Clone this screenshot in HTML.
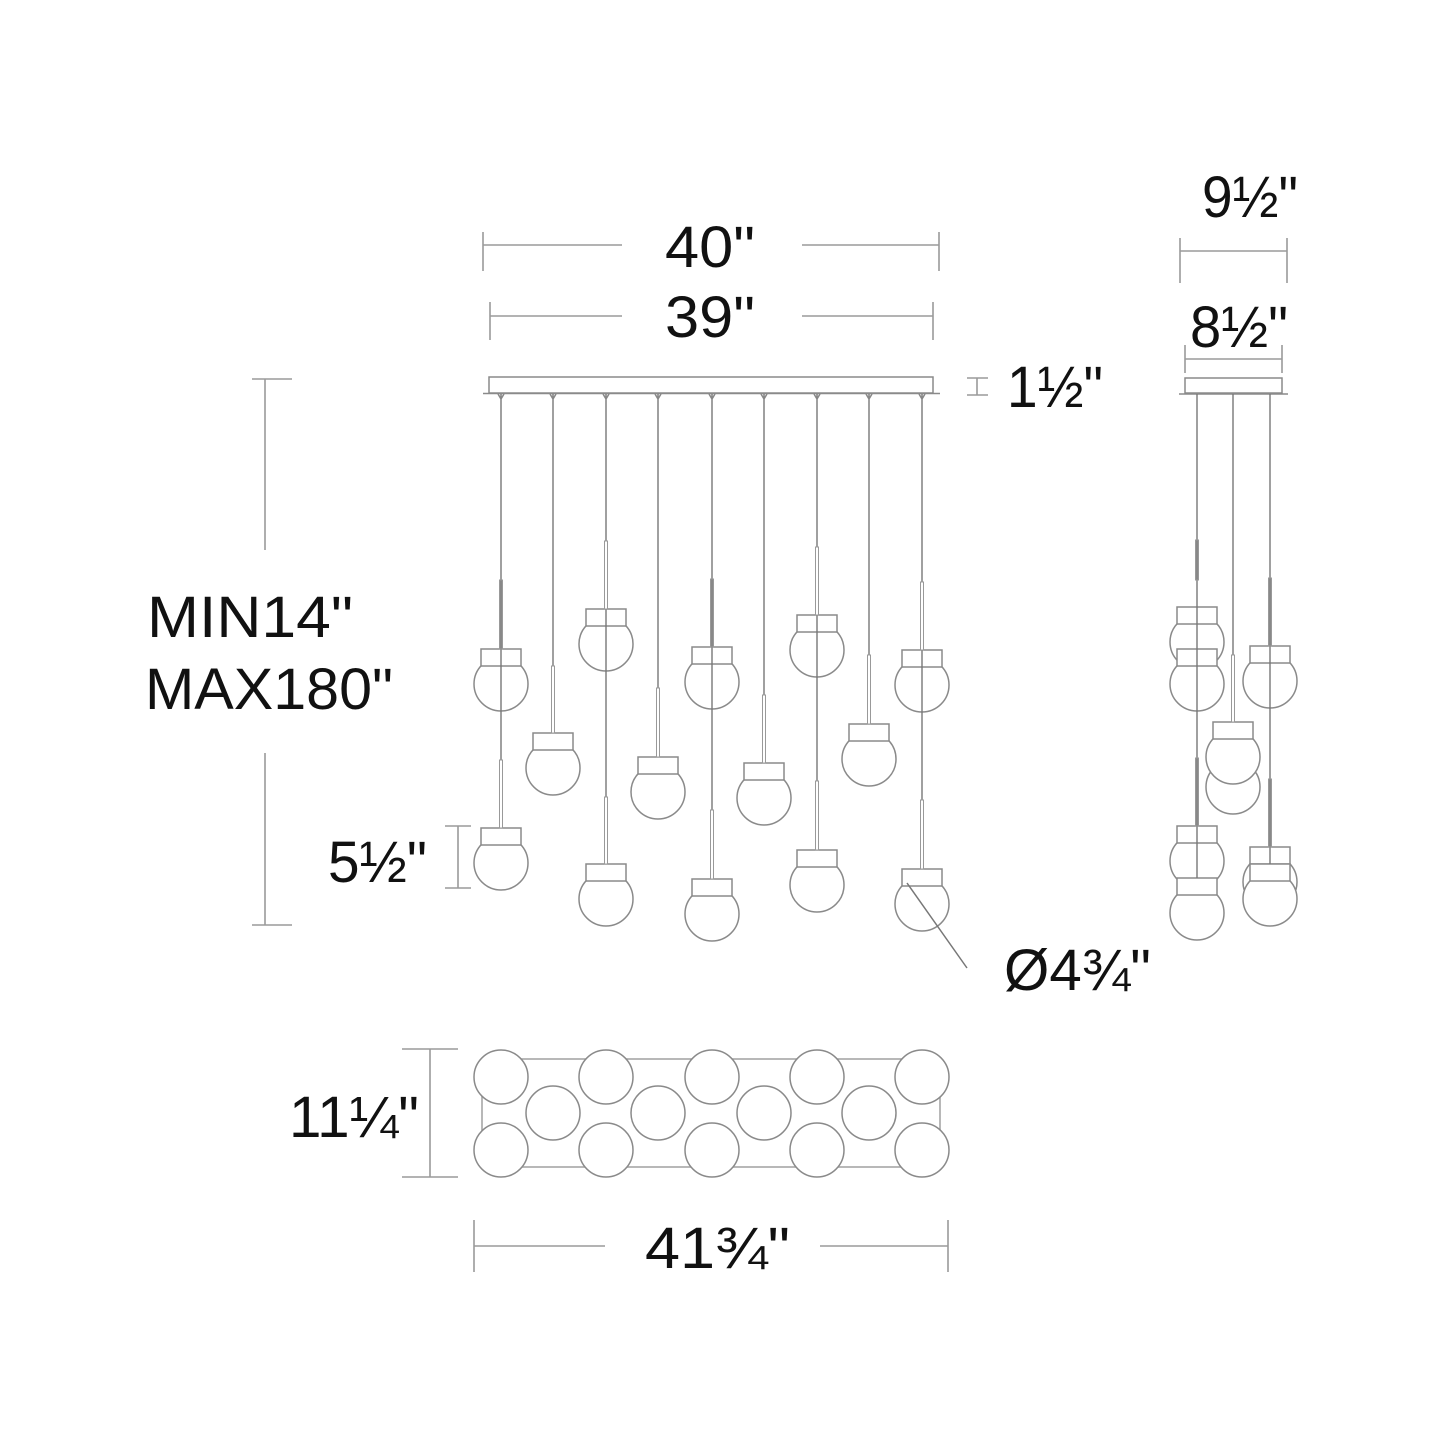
<!DOCTYPE html>
<html><head><meta charset="utf-8"><style>
html,body{margin:0;padding:0;background:#fff;}
svg{display:block;}
text{font-family:"Liberation Sans",sans-serif;fill:#111;font-size:58px;}
</style></head><body>
<svg id="s" width="1445" height="1445" viewBox="0 0 1445 1445" xmlns="http://www.w3.org/2000/svg">
<g fill="none" stroke="#9a9a9a" stroke-width="1.6">
<path d="M483 245H622M802 245H939M483 232V271M939 232V271"/>
<path d="M490 316H622M802 316H933M490 302V340M933 302V340"/>
<path d="M265 379V550M265 753V925M252 379H292M252 925H292"/>
<path d="M458 826V888M445 826H471M445 888H471"/>
<path d="M977 378V395M967 378H988M967 395H988"/>
<path d="M1180 251H1287M1180 238V283M1287 238V283"/>
<path d="M1185 359H1282M1185 345V373M1282 345V373"/>
<path d="M430 1049V1177M402 1049H458M402 1177H458"/>
<path d="M474 1246H605M820 1246H948M474 1220V1272M948 1220V1272"/>
</g>
<g id="front" fill="none" stroke="#8a8a8a" stroke-width="1.5"></g>
<g id="side" fill="none" stroke="#8a8a8a" stroke-width="1.5"></g>
<g id="plan" fill="none" stroke="#8a8a8a" stroke-width="1.5">
<rect x="482" y="1059" width="458" height="108" stroke="#a0a0a0"/>
</g>
<path d="M907 883L967 968" stroke="#777" stroke-width="1.5" fill="none"/>
<text x="665" y="267" textLength="90" lengthAdjust="spacingAndGlyphs">40"</text>
<text x="665" y="337" textLength="90" lengthAdjust="spacingAndGlyphs">39"</text>
<text x="1007" y="407" textLength="96" lengthAdjust="spacingAndGlyphs">1½"</text>
<text x="1202" y="217" textLength="96" lengthAdjust="spacingAndGlyphs">9½"</text>
<text x="1190" y="347" textLength="98" lengthAdjust="spacingAndGlyphs">8½"</text>
<text x="147" y="637" textLength="206" lengthAdjust="spacingAndGlyphs">MIN14"</text>
<text x="145" y="709" textLength="248" lengthAdjust="spacingAndGlyphs">MAX180"</text>
<text x="328" y="882" textLength="99" lengthAdjust="spacingAndGlyphs">5½"</text>
<text x="1004" y="990" textLength="147" lengthAdjust="spacingAndGlyphs">Ø4¾"</text>
<text x="289" y="1137" textLength="130" lengthAdjust="spacingAndGlyphs">11¼"</text>
<text x="645" y="1268" textLength="145" lengthAdjust="spacingAndGlyphs">41¾"</text>
</svg>
<script>
var NS="http://www.w3.org/2000/svg";
function el(p,t,a){var e=document.createElementNS(NS,t);for(var k in a)e.setAttribute(k,a[k]);p.appendChild(e);return e;}
var F=document.getElementById('front'),S=document.getElementById('side'),P=document.getElementById('plan');
el(F,'rect',{x:489,y:377,width:444,height:16});
el(F,'path',{d:'M483 393.5H940'});
var cols=[
 {x:501,caps:[649,828],rods:[[580,649,1],[760,828,0]]},
 {x:553,caps:[733],rods:[[666,733,0]]},
 {x:606,caps:[609,864],rods:[[541,609,0],[797,864,0]]},
 {x:658,caps:[757],rods:[[688,757,0]]},
 {x:712,caps:[647,879],rods:[[579,647,1],[810,879,0]]},
 {x:764,caps:[763],rods:[[695,763,0]]},
 {x:817,caps:[615,850],rods:[[547,615,0],[781,850,0]]},
 {x:869,caps:[724],rods:[[655,724,0]]},
 {x:922,caps:[650,869],rods:[[582,650,0],[800,869,0]]}
];
function pendant(g,cx,top,ghost){
 if(ghost) el(g,'ellipse',{cx:cx,cy:top+35+ghost,rx:27,ry:27,fill:'#fff'});
 el(g,'ellipse',{cx:cx,cy:top+35,rx:27,ry:27,fill:'#fff'});
 el(g,'rect',{x:cx-20,y:top,width:40,height:17,fill:'#fff'});
}
function cord(g,x,y1,y2){el(g,'path',{d:'M'+x+' '+y1+'V'+y2,stroke:'#777','stroke-width':1.4});}
function rod(g,x,y1,y2,dark){el(g,'rect',{x:x-1.5,y:y1,width:3,height:y2-y1,fill:dark?'#888':'#fff',stroke:'#999','stroke-width':1});}
cols.forEach(function(c){c.caps.forEach(function(t){pendant(F,c.x,t);});});
cols.forEach(function(c){
 var last=c.caps[c.caps.length-1];
 cord(F,c.x,394,last);
 c.rods.forEach(function(r){rod(F,c.x,r[0],r[1],r[2]);});
 el(F,'path',{d:'M'+(c.x-3)+' 394L'+c.x+' 399L'+(c.x+3)+' 394',stroke:'#888'});
});
el(S,'rect',{x:1185,y:378,width:97,height:15});
el(S,'path',{d:'M1179 394H1288'});
var sc=[
 {x:1197,p:[[607,0],[649,0],[826,0],[878,0]],rods:[[540,580,1],[758,826,1]],last:878},
 {x:1233,p:[[722,30]],rods:[[655,722,0]],last:722},
 {x:1270,p:[[646,0],[847,0],[864,0]],rods:[[578,646,1],[779,847,1]],last:864}
];
sc.forEach(function(c){c.p.forEach(function(q){pendant(S,c.x,q[0],q[1]);});});
sc.forEach(function(c){
 cord(S,c.x,394,c.last);
 c.rods.forEach(function(r){rod(S,c.x,r[0],r[1],r[2]);});
});
[[501,1077],[606,1077],[712,1077],[817,1077],[922,1077],
 [553,1113],[658,1113],[764,1113],[869,1113],
 [501,1150],[606,1150],[712,1150],[817,1150],[922,1150]].forEach(function(p){
 el(P,'circle',{cx:p[0],cy:p[1],r:27,fill:'#fff'});
});
</script>
</body></html>
